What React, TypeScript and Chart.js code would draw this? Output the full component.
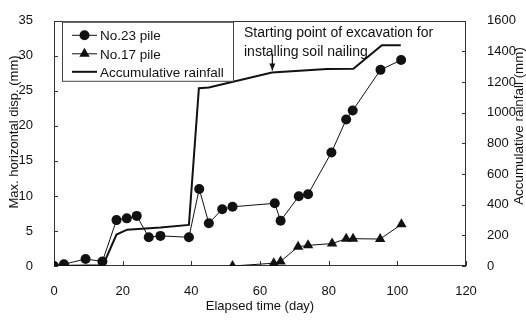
import React, { useEffect, useRef } from 'react';
import { Chart, registerables } from 'chart.js';

Chart.register(...registerables);

// ---- data ----
const pile23Days = [0, 2.9, 9.2, 14.1, 18.2, 21.2, 24.1, 27.6, 31.0, 39.3, 42.3, 45.1, 49.0, 52.0, 64.3, 66.0, 71.3, 74.0, 80.8, 85.1, 87.0, 95.1, 101.1];
const pile23Disp = [0, 0.25, 1.0, 0.65, 6.55, 6.8, 7.15, 4.1, 4.3, 4.1, 11.0, 6.1, 8.1, 8.45, 8.95, 6.45, 9.95, 10.25, 16.2, 20.9, 22.2, 28.0, 29.4];

const pile17Days = [52.0, 64.0, 66.0, 71.1, 74.0, 81.0, 85.1, 87.1, 95.0, 101.2];
const pile17Disp = [0, 0.4, 0.65, 2.75, 2.95, 3.2, 3.9, 3.9, 3.85, 5.95];

const rainDays = [0, 14.3, 18.2, 21.3, 31.0, 39.3, 42.2, 45.1, 63.5, 79.5, 87.2, 95.5, 101.0];
const rainMm = [0, 5, 205, 237, 251, 268, 1160, 1165, 1262, 1285, 1287, 1440, 1440];

const xTicks = [0, 20, 40, 60, 80, 100, 120];
const leftTicks = [0, 5, 10, 15, 20, 25, 30, 35];
const rightTicks = [0, 200, 400, 600, 800, 1000, 1200, 1400, 1600];

const legendLabels = ['No.23 pile', 'No.17 pile', 'Accumulative rainfall'];
const annotationLines = ['Starting point of excavation for', 'installing soil nailing'];
const annotationDay = 63.6;

const xTitle = 'Elapsed time (day)';
const leftTitle = 'Max. horizontal disp. (mm)';
const rightTitle = 'Accumulative rainfall (mm)';

const FONT = '"Liberation Sans", Arial, Helvetica, sans-serif';
const INK = '#111';

const toXY = (xs: number[], ys: number[]) => xs.map((x, i) => ({ x, y: ys[i] }));

const decorPlugin = {
  id: 'decor',
  beforeDatasetsDraw(chart: any) {
    const { ctx, chartArea: a, scales } = chart;
    ctx.save();
    ctx.strokeStyle = '#333';
    ctx.lineWidth = 1;
    ctx.strokeRect(Math.round(a.left) + 0.5, Math.round(a.top) + 0.5, Math.round(a.width) - 1, Math.round(a.height) - 1);
    ctx.beginPath();
    xTicks.forEach((t) => {
      const px = Math.round(scales.x.getPixelForValue(t)) + 0.5;
      ctx.moveTo(px, a.bottom);
      ctx.lineTo(px, a.bottom - 5);
    });
    leftTicks.forEach((t) => {
      const py = Math.round(scales.y.getPixelForValue(t)) + 0.5;
      ctx.moveTo(a.left, py);
      ctx.lineTo(a.left + 4, py);
    });
    rightTicks.forEach((t) => {
      const py = Math.round(scales.y1.getPixelForValue(t)) + 0.5;
      ctx.moveTo(a.right, py);
      ctx.lineTo(a.right - 4, py);
    });
    ctx.stroke();
    ctx.restore();
  },
  afterDraw(chart: any) {
    const { ctx, chartArea: a, scales } = chart;
    ctx.save();
    // legend
    const lx = a.left + 8, ly = a.top + 1, lw = 171, lh = 59;
    ctx.fillStyle = '#fff';
    ctx.fillRect(lx, ly, lw, lh);
    ctx.strokeStyle = '#444';
    ctx.lineWidth = 1;
    ctx.strokeRect(lx + 0.5, ly + 0.5, lw, lh);
    const rows = [ly + 13.5, ly + 32, ly + 50];
    ctx.font = `13.5px ${FONT}`;
    ctx.textBaseline = 'middle';
    ctx.textAlign = 'left';
    rows.forEach((ry, i) => {
      ctx.strokeStyle = INK;
      ctx.lineWidth = i === 2 ? 2 : 1;
      ctx.beginPath();
      ctx.moveTo(lx + 10, ry);
      ctx.lineTo(lx + 35, ry);
      ctx.stroke();
      ctx.fillStyle = INK;
      const cx = lx + 22.5;
      if (i === 0) {
        ctx.beginPath();
        ctx.arc(cx, ry, 5, 0, Math.PI * 2);
        ctx.fill();
      } else if (i === 1) {
        const r = 6;
        ctx.beginPath();
        ctx.moveTo(cx, ry - r);
        ctx.lineTo(cx + r * Math.sin(Math.PI * 2 / 3), ry + r / 2);
        ctx.lineTo(cx - r * Math.sin(Math.PI * 2 / 3), ry + r / 2);
        ctx.closePath();
        ctx.fill();
      }
      ctx.fillText(legendLabels[i], lx + 38, ry + 1);
    });
    // annotation
    const ax = scales.x.getPixelForValue(annotationDay);
    ctx.font = `14px ${FONT}`;
    ctx.fillStyle = INK;
    ctx.fillText(annotationLines[0], 244, a.top + 12);
    ctx.fillText(annotationLines[1], 244, a.top + 31);
    const tipY = scales.y1.getPixelForValue(1262) - 2;
    ctx.strokeStyle = INK;
    ctx.lineWidth = 1.2;
    ctx.beginPath();
    ctx.moveTo(ax, a.top + 33);
    ctx.lineTo(ax, tipY);
    ctx.stroke();
    ctx.beginPath();
    ctx.moveTo(ax - 3, tipY - 7);
    ctx.lineTo(ax, tipY);
    ctx.lineTo(ax + 3, tipY - 7);
    ctx.closePath();
    ctx.fill();
    // axis titles (both read bottom to top)
    ctx.textAlign = 'center';
    ctx.textBaseline = 'middle';
    ctx.font = `13px ${FONT}`;
    ctx.save();
    ctx.translate(14, 132);
    ctx.rotate(-Math.PI / 2);
    ctx.fillText(leftTitle, 0, 0);
    ctx.restore();
    ctx.save();
    ctx.translate(519, 126);
    ctx.rotate(-Math.PI / 2);
    ctx.font = `13.4px ${FONT}`;
    ctx.fillText(rightTitle, 0, 0);
    ctx.restore();
    ctx.restore();
  },
};

export default function App() {
  const ref = useRef<HTMLCanvasElement | null>(null);
  useEffect(() => {
    if (!ref.current) return;
    const tickFont = { family: FONT, size: 13 };
    const chart = new Chart(ref.current, {
      type: 'scatter',
      data: {
        datasets: [
          {
            label: legendLabels[0],
            data: toXY(pile23Days, pile23Disp),
            showLine: true,
            borderColor: INK,
            backgroundColor: INK,
            borderWidth: 1,
            pointStyle: 'circle',
            pointRadius: 5,
            pointBorderWidth: 0,
            yAxisID: 'y',
          },
          {
            label: legendLabels[1],
            data: toXY(pile17Days, pile17Disp),
            showLine: true,
            borderColor: INK,
            backgroundColor: INK,
            borderWidth: 1,
            pointStyle: 'triangle',
            pointRadius: 6,
            pointBorderWidth: 0,
            yAxisID: 'y',
          },
          {
            label: legendLabels[2],
            data: toXY(rainDays, rainMm),
            showLine: true,
            borderColor: INK,
            backgroundColor: INK,
            borderWidth: 2,
            pointRadius: 0,
            yAxisID: 'y1',
          },
        ],
      },
      options: {
        animation: false,
        responsive: false,
        layout: { padding: { top: 13, left: 0, right: 0, bottom: 0 } },
        plugins: { legend: { display: false }, tooltip: { enabled: false } },
        scales: {
          x: {
            type: 'linear',
            min: 0,
            max: 120,
            grid: { display: false },
            border: { display: false },
            afterBuildTicks: (s: any) => { s.ticks = xTicks.map((v) => ({ value: v })); },
            ticks: { font: tickFont, color: INK, padding: 10, maxRotation: 0, callback: (v: any) => String(v) },
            title: { display: true, text: xTitle, font: tickFont, color: INK, padding: { top: 0, bottom: 10 } },
            afterFit: (s: any) => { s.height = 58; },
          },
          y: {
            type: 'linear',
            position: 'left',
            min: 0,
            max: 35,
            grid: { display: false },
            border: { display: false },
            afterBuildTicks: (s: any) => { s.ticks = leftTicks.map((v) => ({ value: v })); },
            ticks: { font: tickFont, color: INK, padding: 13, callback: (v: any) => String(v) },
            afterFit: (s: any) => { s.width = 54; },
          },
          y1: {
            type: 'linear',
            position: 'right',
            min: 0,
            max: 1600,
            grid: { display: false },
            border: { display: false },
            afterBuildTicks: (s: any) => { s.ticks = rightTicks.map((v) => ({ value: v })); },
            ticks: { font: tickFont, color: INK, padding: 13, callback: (v: any) => String(v) },
            afterFit: (s: any) => { s.width = 60; },
          },
        },
      },
      plugins: [decorPlugin],
    });
    return () => chart.destroy();
  }, []);
  return (
    <div style={{ position: 'fixed', left: 0, top: 0, width: 526, height: 324, background: '#fff' }}>
      <canvas ref={ref} width={526} height={324} style={{ width: 526, height: 324, display: 'block' }} />
    </div>
  );
}
